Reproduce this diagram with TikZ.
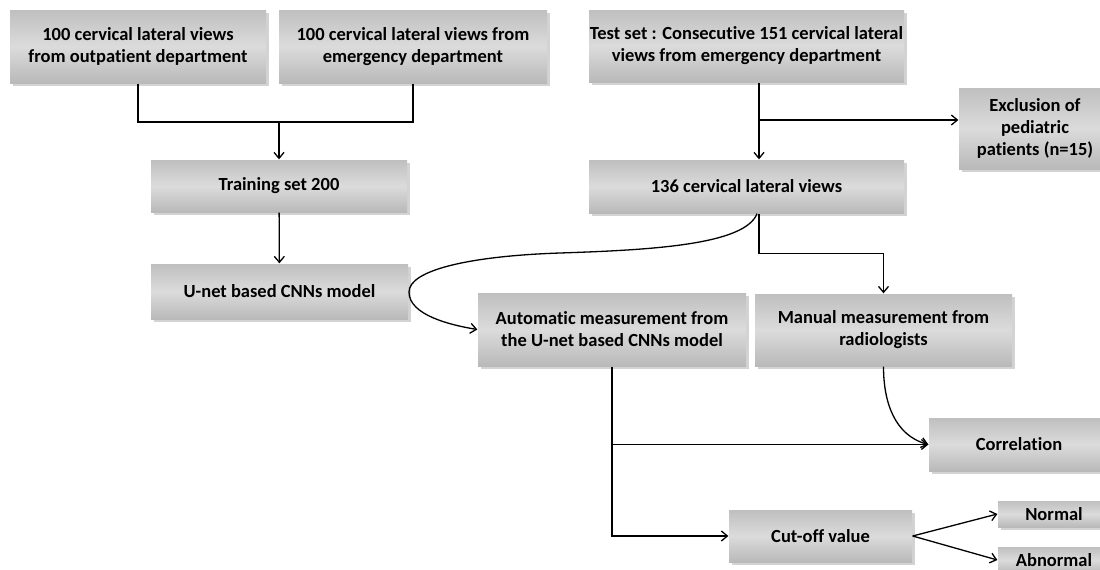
\documentclass[tikz,border=0pt]{standalone}
\usepackage{fontspec}
\setmainfont{Carlito}[Ligatures=NoCommon]
\usetikzlibrary{arrows.meta,shadows}
\tikzset{%
  >={Straight Barb[width=10pt,length=6pt]},
  % Specifications for style of nodes:
            base/.style = {rectangle, inner sep=0pt, align=center,
                           font=\bfseries\fontsize{18.5}{22}\selectfont},
       graybox/.style = {base, top color=gray!50, bottom color=gray!55,
                           middle color=gray!28,
                           drop shadow={shadow xshift=3pt, shadow yshift=-3pt,
                                        opacity=0.35}},
}

\begin{document}
\begin{tikzpicture}[x=1pt, y=1pt, line width=1.3pt]
  \useasboundingbox (0,0) rectangle (1100,-570);
  \clip (0,0) rectangle (1100,-570);
  % Specification of nodes (position, etc.)

  \node (outpat)    [graybox, minimum width=256pt, minimum height=73pt] at (138,-46.5) {100 cervical lateral views\\from outpatient department};
  \node (emerg)     [graybox, minimum width=268pt, minimum height=73pt] at (413,-46.5) {100 cervical lateral views from\\emergency department};
  \node (train)     [graybox, minimum width=256pt, minimum height=52pt] at (279,-186) {Training set 200};
  \node (unet)      [graybox, minimum width=257pt, minimum height=55pt] at (279.5,-291.5) {U-net based CNNs model};
  \node (testset)   [graybox, minimum width=315pt, minimum height=72pt] at (746.5,-46) {Test set : Consecutive 151 cervical lateral\\views from emergency department};
  \node (excl)      [graybox, minimum width=152pt, minimum height=81pt] at (1035,-128.5) {Exclusion of\\pediatric\\patients (n=15)};
  \node (views136)  [graybox, minimum width=315pt, minimum height=53pt] at (746.5,-186.5) {136 cervical lateral views};
  \node (auto)      [graybox, minimum width=268pt, minimum height=73pt] at (612,-329.5) {Automatic measurement from\\the U-net based CNNs model};
  \node (manual)    [graybox, minimum width=257pt, minimum height=72pt] at (883.5,-330) {Manual measurement from\\radiologists};
  \node (corr)      [graybox, minimum width=180pt, minimum height=53pt] at (1019,-444.5) {Correlation};
  \node (cutoff)    [graybox, minimum width=183pt, minimum height=52pt] at (820.5,-536) {Cut-off value};
  \node (normal)    [graybox, minimum width=112pt, minimum height=26pt] at (1054,-514) {Normal};
  \node (abnormal)  [graybox, minimum width=112pt, minimum height=26pt] at (1054,-560) {Abnormal};

  \coordinate (join)    at (279,-122);
  \coordinate (exsplit) at (759,-120);

  \draw       (outpat.south) |- (join) -| (emerg.south);
  \draw[->]   (join) -- (train);
  \draw[->]   (train) -- (unet);
  \draw[->]   ([xshift=12.5pt]testset.south) -- ([xshift=12.5pt]views136.north);
  \draw[->]   (exsplit) -- (exsplit -| excl.west);
  \draw[->]   ([xshift=12.5pt]views136.south) -- ++(0,-40) -| (manual.north);
  \draw[->]   ([xshift=10.5pt]views136.south) .. controls (745,-245) and (650,-250) .. (560,-253)
                .. controls (470,-256) and (409,-270) .. (409,-292)
                .. controls (409,-315) and (450,-325) .. (auto.west);
  \draw[->]   (manual.south) to[out=-90, in=165] (corr.west);
  \draw[->]   (auto.south |- corr.west) -- (corr.west);
  \draw[->]   (auto.south) |- (cutoff.west);
  \draw[->]   (cutoff.east) -- (normal.west);
  \draw[->]   (cutoff.east) -- (abnormal.west);
\end{tikzpicture}
\end{document}
